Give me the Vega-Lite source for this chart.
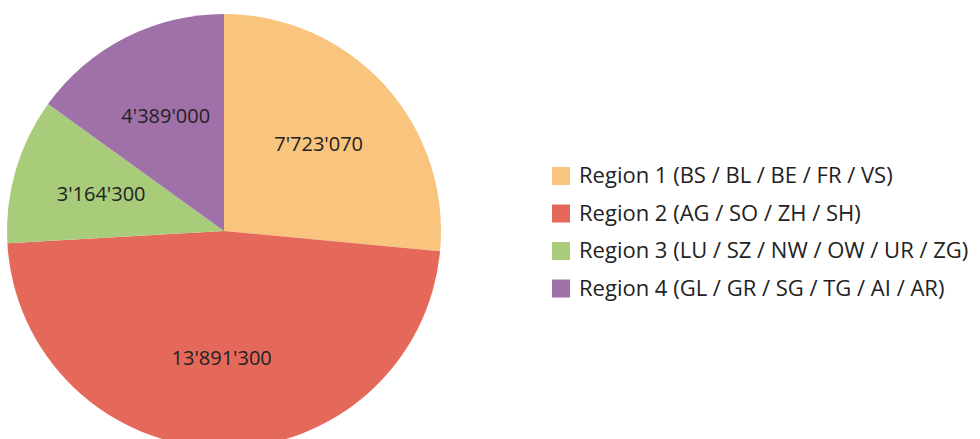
{
  "$schema": "https://vega.github.io/schema/vega-lite/v6.json",
  "width": 448,
  "height": 462,
  "padding": {"left": 0, "top": 0, "right": 532, "bottom": 0},
  "autosize": {"type": "none"},
  "background": "white",
  "view": {"stroke": null},
  "config": {"font": "Open Sans"},
  "data": {
    "values": [
      {"region": "Region 1 (BS / BL / BE / FR / VS)", "value": 7723070, "label": "7'723'070", "ord": 1},
      {"region": "Region 2 (AG / SO / ZH / SH)", "value": 13891300, "label": "13'891'300", "ord": 2},
      {"region": "Region 3 (LU / SZ / NW / OW / UR / ZG)", "value": 3164300, "label": "3'164'300", "ord": 3},
      {"region": "Region 4 (GL / GR / SG / TG / AI / AR)", "value": 4389000, "label": "4'389'000", "ord": 4}
    ]
  },
  "encoding": {
    "theta": {"field": "value", "type": "quantitative", "stack": true},
    "order": {"field": "ord", "type": "quantitative"}
  },
  "layer": [
    {
      "mark": {"type": "arc", "outerRadius": 217},
      "encoding": {
        "color": {
          "field": "region",
          "type": "nominal",
          "sort": null,
          "scale": {
            "domain": [
              "Region 1 (BS / BL / BE / FR / VS)",
              "Region 2 (AG / SO / ZH / SH)",
              "Region 3 (LU / SZ / NW / OW / UR / ZG)",
              "Region 4 (GL / GR / SG / TG / AI / AR)"
            ],
            "range": ["#F9C47E", "#E5695B", "#A9CC7A", "#A071A8"]
          },
          "legend": {
            "title": null,
            "orient": "none",
            "legendX": 550,
            "legendY": 165,
            "symbolType": "square",
            "symbolSize": 324,
            "symbolStrokeWidth": 0,
            "labelFontSize": 22,
            "labelFont": "Open Sans",
            "labelColor": "#222222",
            "rowPadding": 15.5,
            "labelOffset": 7,
            "labelLimit": 500
          }
        }
      }
    },
    {
      "mark": {"type": "text", "radius": 128, "fontSize": 20, "font": "Open Sans", "color": "#222222"},
      "encoding": {
        "text": {"field": "label", "type": "nominal"}
      }
    }
  ]
}
